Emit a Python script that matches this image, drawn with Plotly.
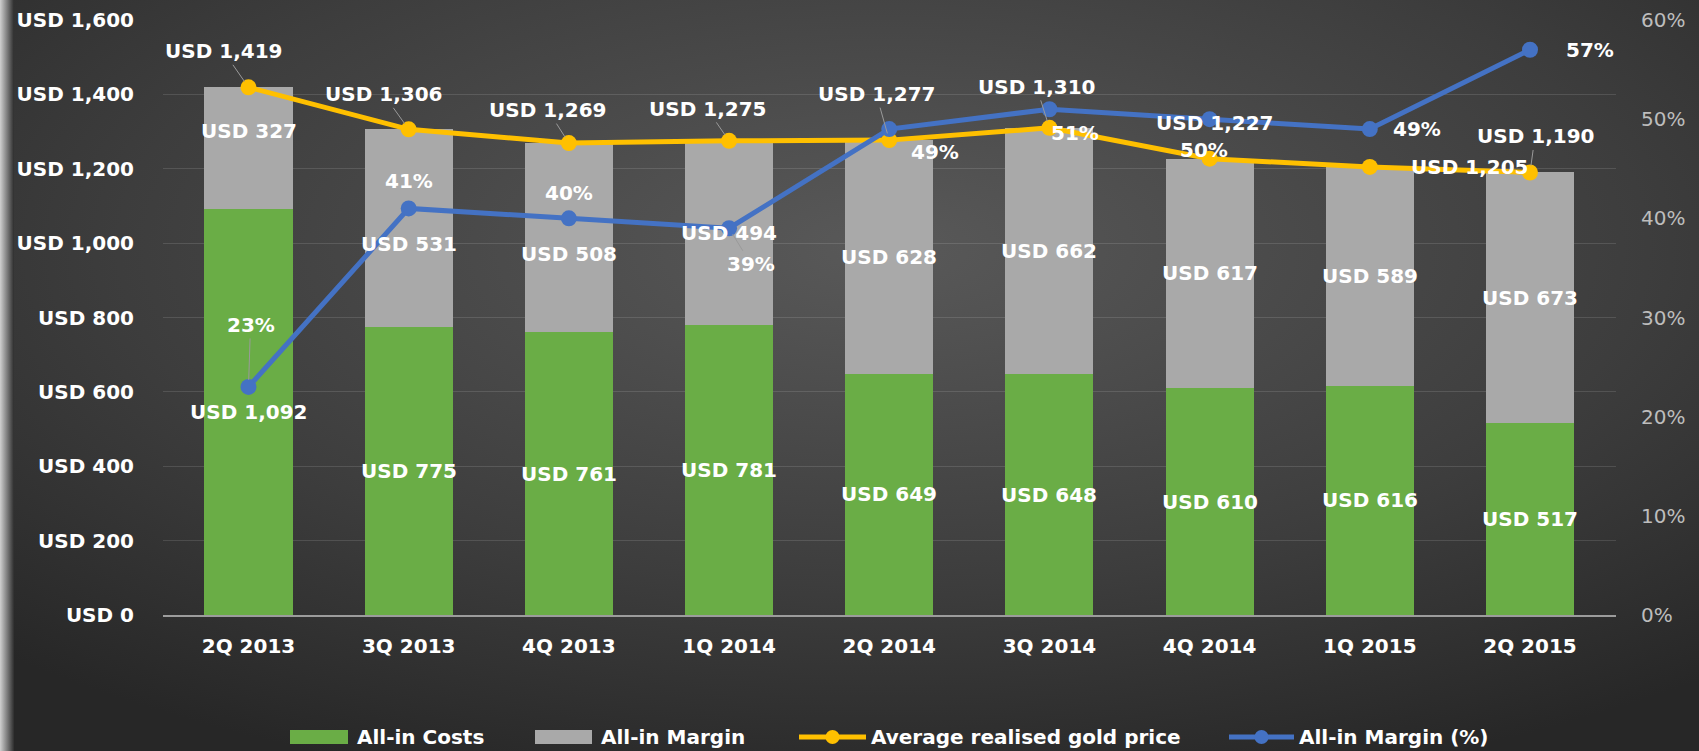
"""All-in costs vs margin, with gold price and margin % on a dark theme."""

import base64

import plotly.graph_objects as go

# --- data -------------------------------------------------------------------
QUARTERS = ["2Q 2013", "3Q 2013", "4Q 2013", "1Q 2014", "2Q 2014",
            "3Q 2014", "4Q 2014", "1Q 2015", "2Q 2015"]
ALL_IN_COSTS = [1092, 775, 761, 781, 649, 648, 610, 616, 517]
ALL_IN_MARGIN = [327, 531, 508, 494, 628, 662, 617, 589, 673]
GOLD_PRICE = [1419, 1306, 1269, 1275, 1277, 1310, 1227, 1205, 1190]
MARGIN_PCT = [0.23, 0.41, 0.40, 0.39, 0.49, 0.51, 0.50, 0.49, 0.57]

Y_TICKS = [0, 200, 400, 600, 800, 1000, 1200, 1400, 1600]
Y_TICK_TEXT = ["USD 0", "USD 200", "USD 400", "USD 600", "USD 800",
               "USD 1,000", "USD 1,200", "USD 1,400", "USD 1,600"]

SERIES_NAMES = ["All-in Costs", "All-in Margin",
                "Average realised gold price", "All-in Margin (%)"]

# label placement (pixel offsets from the point, leader line on/off)
GOLD_LABEL_POS = [(-25, -36, True), (-25, -35, True), (-21, -33, True),
                  (-22, -32, True), (-13, -46, True), (-13, -41, True),
                  (5, -36, False), (100, 0, False), (5, -36, True)]
PCT_LABEL_POS = [(2, -62, True), (0, -27, False), (0, -25, False),
                 (22, 36, True), (46, 23, False), (26, 24, False),
                 (-6, 31, False), (47, 0, False), (60, 0, False)]
# small vertical nudges (px, up positive) for the margin segment labels
MARGIN_LABEL_NUDGE = [17, -16, -16, 0, 0, 0, 0, 0, 0]

# --- style ------------------------------------------------------------------
GREEN = "#6aad46"
GREY = "#a9a9a9"
GOLD = "#FFC000"
BLUE = "#4472C4"
FONT = "DejaVu Sans"

W, H = 1699, 751
L, R, T, B = 163, 83, 20, 136
plot_w = W - L - R
plot_h = H - T - B


def px_x(px):
    return (px - L) / plot_w


def px_y(py):
    return (T + plot_h - py) / plot_h


usd = lambda v: f"USD {v:,}"

# dark radial background as an svg image
svg = f"""<svg xmlns='http://www.w3.org/2000/svg' width='{W}' height='{H}' preserveAspectRatio='none'>
<defs>
<radialGradient id='g' cx='0.52' cy='0.33' r='0.75'>
<stop offset='0' stop-color='#595959'/><stop offset='0.6' stop-color='#3d3d3d'/>
<stop offset='1' stop-color='#272727'/></radialGradient>
<linearGradient id='e' x1='0' x2='1' y1='0' y2='0'>
<stop offset='0' stop-color='#d0d0d0'/><stop offset='1' stop-color='#2e2e2e'/></linearGradient>
</defs>
<rect width='{W}' height='{H}' fill='url(#g)'/>
<rect width='14' height='{H}' fill='url(#e)'/>
</svg>"""
bg_src = "data:image/svg+xml;base64," + base64.b64encode(svg.encode()).decode()

fig = go.Figure()

fig.add_trace(go.Bar(
    x=QUARTERS, y=ALL_IN_COSTS, name=SERIES_NAMES[0],
    marker=dict(color=GREEN, line=dict(width=0)), width=0.55,
    hoverinfo="skip",
))
fig.add_trace(go.Bar(
    x=QUARTERS, y=ALL_IN_MARGIN, name=SERIES_NAMES[1],
    marker=dict(color=GREY, line=dict(width=0)), width=0.55,
    hoverinfo="skip",
))
fig.add_trace(go.Scatter(
    x=QUARTERS, y=GOLD_PRICE, name=SERIES_NAMES[2],
    mode="lines+markers",
    line=dict(color=GOLD, width=5),
    marker=dict(color=GOLD, size=16),
))
fig.add_trace(go.Scatter(
    x=QUARTERS, y=MARGIN_PCT, name=SERIES_NAMES[3], yaxis="y2",
    mode="lines+markers",
    line=dict(color=BLUE, width=5),
    marker=dict(color=BLUE, size=16),
))

label_font = dict(family=FONT, size=20, color="white", weight="bold")
annotations = []

# bar segment labels, centred in each segment
for q, c, m, nudge in zip(QUARTERS, ALL_IN_COSTS, ALL_IN_MARGIN,
                          MARGIN_LABEL_NUDGE):
    annotations.append(dict(x=q, y=c / 2, text=usd(c), showarrow=False,
                            font=label_font))
    annotations.append(dict(x=q, y=c + m / 2, text=usd(m), showarrow=False,
                            yshift=nudge, font=label_font))

# gold price labels with small leader lines
for q, v, (dx, dy, lead) in zip(QUARTERS, GOLD_PRICE, GOLD_LABEL_POS):
    annotations.append(dict(
        x=q, y=v, text=usd(v), ax=dx, ay=dy, showarrow=True,
        arrowhead=0, arrowwidth=1, standoff=7,
        arrowcolor="#9a9a9a" if lead else "rgba(0,0,0,0)",
        font=label_font,
    ))

# margin % labels
for q, v, (dx, dy, lead) in zip(QUARTERS, MARGIN_PCT, PCT_LABEL_POS):
    annotations.append(dict(
        x=q, y=v, yref="y2", text=f"{v:.0%}", ax=dx, ay=dy, showarrow=True,
        arrowhead=0, arrowwidth=1, standoff=7,
        arrowcolor="#9a9a9a" if lead else "rgba(0,0,0,0)",
        font=label_font,
    ))

# custom legend below the axis (wide swatches like the original)
LEG_Y = 737
legend_items = [  # (kind, colour, x0, x1, text x)
    ("box", GREEN, 290, 348, 355),
    ("box", GREY, 535, 592, 599),
    ("line", GOLD, 799, 866, 869),
    ("line", BLUE, 1229, 1294, 1297),
]
shapes = []
for (kind, col, x0, x1, tx), name in zip(legend_items, SERIES_NAMES):
    if kind == "box":
        shapes.append(dict(type="rect", xref="paper", yref="paper",
                           x0=px_x(x0), x1=px_x(x1),
                           y0=px_y(LEG_Y + 7), y1=px_y(LEG_Y - 7),
                           fillcolor=col, line=dict(width=0)))
    else:
        shapes.append(dict(type="line", xref="paper", yref="paper",
                           x0=px_x(x0), x1=px_x(x1),
                           y0=px_y(LEG_Y), y1=px_y(LEG_Y),
                           line=dict(color=col, width=5)))
        xm = (x0 + x1) / 2
        shapes.append(dict(type="circle", xref="paper", yref="paper",
                           x0=px_x(xm - 7), x1=px_x(xm + 7),
                           y0=px_y(LEG_Y + 7), y1=px_y(LEG_Y - 7),
                           fillcolor=col, line=dict(width=0)))
    annotations.append(dict(
        xref="paper", yref="paper", x=px_x(tx), y=px_y(LEG_Y),
        xanchor="left", yanchor="middle", text=name, showarrow=False,
        font=dict(family=FONT, size=20, color="white", weight="bold"),
    ))

fig.update_layout(
    width=W, height=H,
    margin=dict(l=L, r=R, t=T, b=B, autoexpand=False),
    barmode="stack",
    bargap=0.45,
    paper_bgcolor="#333333",
    plot_bgcolor="rgba(0,0,0,0)",
    font=dict(family=FONT, color="white"),
    showlegend=False,
    xaxis=dict(
        showgrid=False, showline=True, linecolor="#9c9c9c", linewidth=2,
        tickfont=dict(family=FONT, size=20, color="white", weight="bold"),
        ticks="", ticklabelstandoff=12,
    ),
    yaxis=dict(
        range=[0, 1600], tickvals=Y_TICKS, ticktext=Y_TICK_TEXT,
        showgrid=True, gridcolor="rgba(255,255,255,0.12)", gridwidth=1,
        zeroline=False, showline=False, ticks="",
        tickfont=dict(family=FONT, size=20, color="white", weight="bold"),
        ticklabelstandoff=28,
    ),
    yaxis2=dict(
        overlaying="y", side="right", range=[0, 0.6], dtick=0.1,
        tickformat=".0%", showgrid=False, zeroline=False, ticks="",
        tickfont=dict(family=FONT, size=20, color="#bdbdbd"),
        ticklabelstandoff=24,
    ),
    annotations=annotations,
    shapes=shapes,
    images=[dict(
        source=bg_src, xref="paper", yref="paper",
        x=-L / plot_w, y=1 + T / plot_h, sizex=W / plot_w, sizey=H / plot_h,
        xanchor="left", yanchor="top", sizing="stretch", layer="below",
    )],
)

fig.write_html(
    "out.html",
    config={"displayModeBar": False},
    post_script="document.body.style.margin='0';document.body.style.overflow='hidden';",
)
